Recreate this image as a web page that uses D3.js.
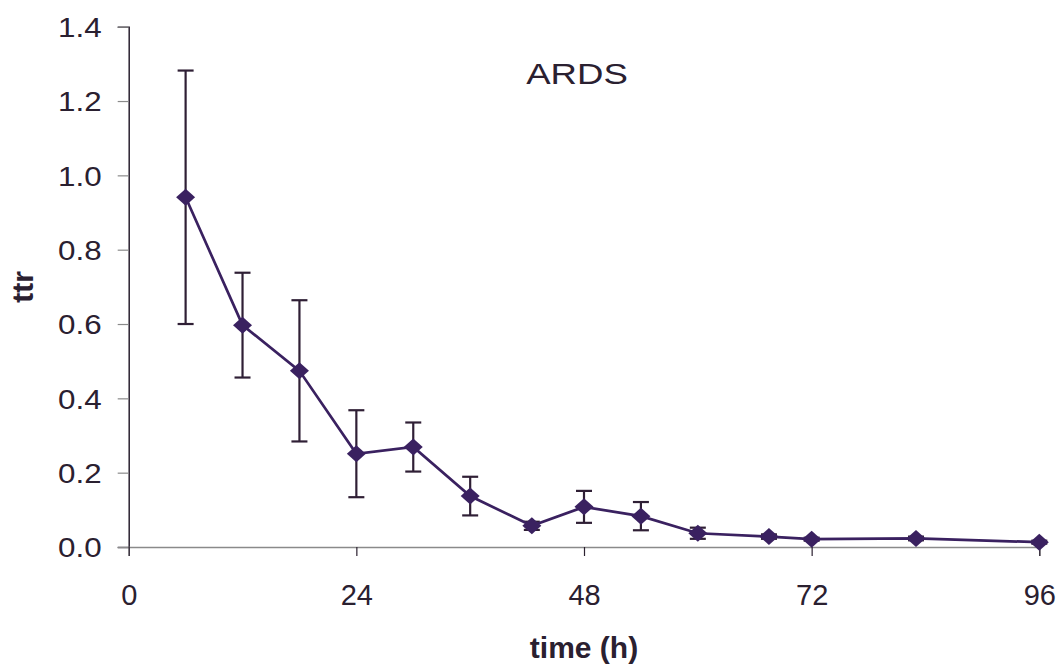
<!DOCTYPE html>
<html>
<head>
<meta charset="utf-8">
<script src="https://cdn.jsdelivr.net/npm/d3@7"></script>
<style>
  body { margin: 0; background: #fff; }
  text { font-family: "Liberation Sans", Arial, sans-serif; fill: #2a2030; }
</style>
</head>
<body>
<div id="chart"></div>
<script>
// data
var times = [6, 12, 18, 24, 30, 36, 42.5, 48, 54, 60, 67.5, 72, 83, 96];
var ttr = [0.941, 0.597, 0.474, 0.251, 0.269, 0.137, 0.057, 0.108, 0.083, 0.037, 0.028, 0.021, 0.023, 0.013];
var sd = [0.341, 0.141, 0.190, 0.117, 0.066, 0.052, 0.011, 0.043, 0.038, 0.015, 0.006, 0.004, 0.005, 0.004];
var xTicks = [0, 24, 48, 72, 96];
var yTicks = [0, 0.2, 0.4, 0.6, 0.8, 1.0, 1.2, 1.4];

var width = 1061, height = 666;
var lineColor = "#3a2160";
var barColor = "#2f1f35";

var svg = d3.select("#chart")
  .append("svg")
  .attr("width", width).attr("height", height);

var x = d3.scaleLinear().domain([0, 96]).range([128.7, 1039.3]);
var y = d3.scaleLinear().domain([0, 1.4]).range([547, 26.7]);

// y axis
var yAxis = svg.append("g")
  .attr("transform", "translate(" + x(0) + ",0)")
  .call(d3.axisLeft(y).tickValues(yTicks).tickFormat(d3.format(".1f")).tickSize(11).tickPadding(15));
yAxis.select(".domain").attr("stroke", "#2b2130").attr("stroke-width", 1.5);
yAxis.selectAll(".tick line").attr("stroke", "#8a8a8a").attr("stroke-width", 1.2);
yAxis.selectAll(".tick text")
  .attr("font-size", 28)
  .attr("fill", "#231a28")
  .attr("dy", "0.35em")
  .attr("transform", "scale(1.12,1)")
  .attr("x", -27 / 1.12);

// x axis
var xAxis = svg.append("g")
  .attr("transform", "translate(0," + y(0) + ")")
  .call(d3.axisBottom(x).tickValues(xTicks).tickFormat(d3.format("d")).tickSize(9).tickPadding(37));
xAxis.select(".domain").attr("stroke", "#8a8a8a").attr("stroke-width", 1.5);
xAxis.selectAll(".tick line").attr("stroke", "#2b2130").attr("stroke-width", 1.2);
xAxis.selectAll(".tick text")
  .attr("font-size", 29)
  .attr("fill", "#231a28")
  .attr("dy", "0")
  .attr("y", 58);

// error bars
var bars = svg.append("g");
times.forEach(function(t, i) {
  var hi = ttr[i] + sd[i], lo = ttr[i] - sd[i];
  bars.append("line")
    .attr("x1", x(t)).attr("x2", x(t))
    .attr("y1", y(hi)).attr("y2", y(lo))
    .attr("stroke", barColor).attr("stroke-width", 2.2);
  [hi, lo].forEach(function(v) {
    bars.append("line")
      .attr("x1", x(t) - 8).attr("x2", x(t) + 8)
      .attr("y1", y(v)).attr("y2", y(v))
      .attr("stroke", barColor).attr("stroke-width", 2.2);
  });
});

// line
var line = d3.line()
  .x(function(d, i) { return x(times[i]); })
  .y(function(d) { return y(d); });

svg.append("path")
  .datum(ttr)
  .attr("d", line)
  .attr("fill", "none")
  .attr("stroke", lineColor)
  .attr("stroke-width", 2.7);

// diamond markers
svg.append("g").selectAll("path")
  .data(ttr)
  .enter()
  .append("path")
  .attr("d", "M0,-8.5L9.5,0L0,8.5L-9.5,0Z")
  .attr("transform", function(d, i) { return "translate(" + x(times[i]) + "," + y(d) + ")"; })
  .attr("fill", lineColor);

// titles
svg.append("text")
  .attr("transform", "translate(577,84) scale(1.22,1)")
  .attr("text-anchor", "middle")
  .attr("font-size", 30)
  .attr("fill", "#231a28")
  .text("ARDS");

svg.append("text")
  .attr("x", 584).attr("y", 658)
  .attr("text-anchor", "middle")
  .attr("font-size", 30)
  .attr("font-weight", "bold")
  .attr("fill", "#231a28")
  .text("time (h)");

svg.append("text")
  .attr("transform", "translate(33,287) rotate(-90)")
  .attr("text-anchor", "middle")
  .attr("font-size", 30)
  .attr("font-weight", "bold")
  .attr("fill", "#231a28")
  .text("ttr");
</script>
</body>
</html>
